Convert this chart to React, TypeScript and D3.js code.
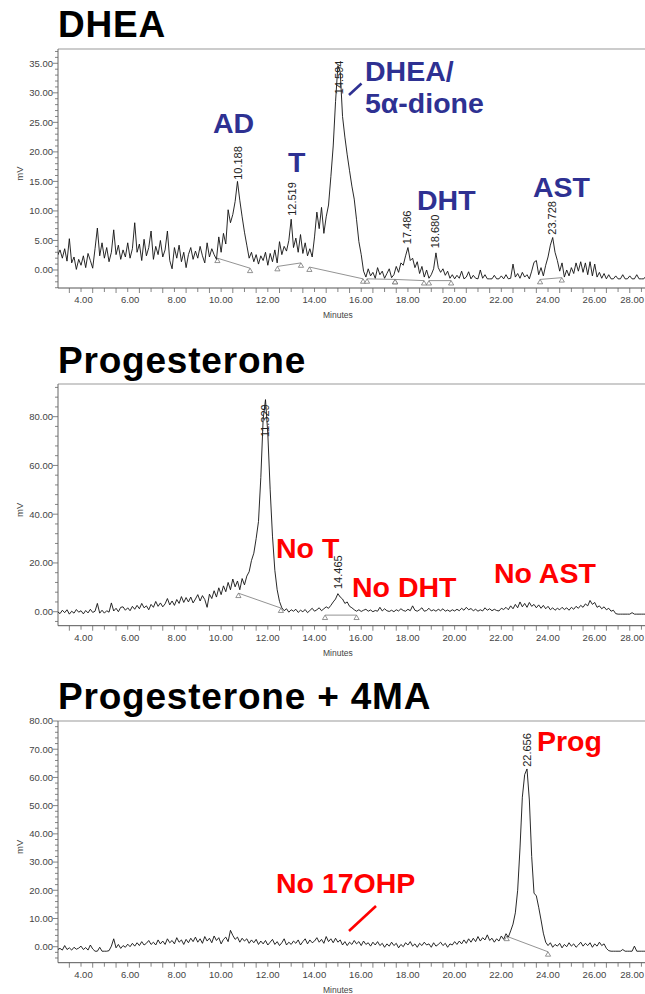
import React from 'react';
import * as d3 from 'd3';

// sampling grid of the traces (minutes)
const T0 = 2.5;
const DT = 0.1;

// DHEA incubation, mV every 0.1 min from 2.5 min
const dheaTrace = [
  2.5, 3.4, 2.0, 3.6, 1.5, 5.3, 1.2, 2.2, 0.1, 1.8,
  0.8, 2.4, 0.4, 2.8, 1.6, 0.3, 3.6, 7.1, 2.4, 4.6,
  2.0, 3.8, 1.4, 3.0, 6.8, 2.6, 4.2, 1.8, 3.4, 2.2,
  4.6, 2.0, 3.6, 8.0, 3.0, 4.4, 1.6, 5.2, 2.4, 3.8,
  6.6, 1.8, 4.0, 2.6, 5.0, 2.2, 3.4, 6.6, 1.6, 0.2,
  3.8, 2.0, 4.2, 1.4, 3.0, 0.4, 2.6, 3.8, 1.8, 3.2,
  2.0, 4.0, 2.4, 1.2, 4.6, 2.2, 3.6, 2.6, 1.8, 5.6,
  3.0, 6.2, 4.4, 10.2, 8.0, 9.4, 11.6, 15.0, 11.8, 9.0,
  6.4, 4.2, 2.0, 3.0, 1.4, 2.6, 1.0, 2.4, 1.6, 3.0,
  0.8, 2.8, 1.4, 3.4, 1.2, 4.8, 2.6, 4.0, 3.2, 5.0,
  8.6, 3.8, 5.4, 3.0, 6.0, 2.8, 4.6, 2.4, 3.6, 2.2,
  5.6, 9.8, 7.0, 10.6, 6.2, 9.0, 11.0, 15.8, 21.0, 28.5,
  34.6, 33.6, 26.0, 22.5, 19.5, 16.8, 14.2, 12.0, 8.5, 4.8,
  2.6, -0.2, -1.2, 0.2, -1.0, -0.4, -1.4, 0.4, -0.8, -0.2,
  -1.4, -0.6, 0.2, -1.3, -0.8, 0.6, -0.4, 1.2, 0.8, 2.4,
  3.8, 1.6, 2.0, 0.4, 1.4, -0.6, 0.6, -1.2, 0.0, -1.4,
  -0.8, 0.2, 2.9, 0.4, -0.4, 0.2, -0.9, -0.2, -1.4, -0.8,
  -1.5, -0.9, -1.4, -0.2, -1.5, -1.2, -0.3, -1.5, -0.9, -1.4,
  -1.5, 0.0, -1.4, -0.8, -1.5, -1.5, -1.5, -0.9, -1.5, -1.5,
  -1.0, -1.5, -0.8, -1.5, -1.4, 1.0, -1.2, -0.6, -1.4, -0.4,
  -1.2, -0.8, -1.5, -0.2, 1.3, 1.6, -0.8, 0.4, -1.0, 0.8,
  2.2, 4.2, 5.5, 3.0, 1.6, -0.2, 1.2, -1.2, 0.0, -1.0,
  0.4, -0.6, 1.2, -0.2, 1.4, -0.4, 1.2, -0.8, 1.4, -1.0,
  1.0, -1.2, -0.4, -1.4, -0.6, -1.5, -0.8, -1.5, -1.5, -1.0,
  -1.5, -1.5, -0.8, -1.5, -1.5, -1.0, -1.5, -1.5, -0.8, -1.5,
  -1.5, -1.5, -1.0, -1.5, -1.5,
];

// Progesterone incubation
const progTrace = [
  0.0, -0.8, 0.6, -0.4, 0.8, -1.0, 0.2, -0.6, 0.9, -0.2,
  0.4, -0.9, 0.5, -0.5, 1.0, -0.3, 0.2, 3.4, -0.6, 0.6,
  -0.6, 0.4, -0.2, 3.6, 0.3, 1.4, 0.0, 1.8, 2.0, 0.6,
  1.6, 0.4, 2.2, 1.0, 2.6, 1.2, 3.4, 1.6, 2.4, 0.8,
  3.0, 1.8, 4.2, 2.2, 3.6, 2.0, 3.2, 5.4, 2.8, 4.4,
  2.6, 5.0, 3.4, 6.2, 3.8, 5.8, 4.0, 6.0, 3.6, 5.2,
  7.0, 4.4, 6.6, 5.0, 1.8, 7.2, 5.4, 8.6, 6.0, 9.8,
  7.0, 10.6, 8.2, 12.0, 9.0, 13.4, 10.2, 12.6, 9.0, 13.6,
  11.0, 14.6, 16.4, 21.0, 24.0, 30.0, 37.0, 55.0, 79.0, 87.0,
  73.0, 50.0, 31.0, 17.0, 9.0, 4.2, 1.6, 0.4, 1.2, -0.2,
  0.8, 0.2, 1.0, -0.3, 0.6, 0.0, 0.9, -0.4, 0.5, 1.4,
  0.2, 0.8, 1.6, 0.4, 1.2, 2.0, 1.4, 2.6, 4.0, 5.2,
  7.4, 6.0, 5.2, 3.4, 4.0, 2.2, 1.6, 0.8, 0.2, 0.8,
  0.1, 0.6, 1.0, 0.2, 0.7, 0.0, 0.5, 0.2, 1.8, 0.3,
  1.2, 0.4, 0.1, 0.6, 0.0, 0.8, 0.3, 1.2, 0.5, 0.2,
  1.0, 0.4, 2.4, 0.6, 0.2, 0.8, 1.6, 0.2, 0.5, 1.4,
  0.3, 0.8, 0.2, 1.0, 0.4, 1.2, 0.2, 0.7, 0.1, 0.8,
  0.3, 1.0, 0.4, 1.4, 0.6, 1.8, 0.8, 1.3, 0.4, 1.0,
  0.2, 0.8, 0.3, 1.6, 0.6, 1.2, 0.4, 1.0, 0.5, 0.3,
  1.4, 0.9, 1.8, 0.8, 2.4, 1.2, 3.0, 1.6, 4.0, 2.0,
  3.4, 1.8, 3.8, 2.2, 3.0, 1.6, 2.8, 1.4, 2.6, 1.2,
  2.2, 0.8, 1.6, 0.6, 1.4, 0.8, 1.8, 0.9, 1.6, 0.6,
  1.8, 1.0, 2.2, 1.4, 2.6, 1.8, 3.2, 2.4, 4.6, 3.0,
  3.8, 1.8, 2.4, 1.2, 2.0, 0.8, 1.4, 0.2, 0.6, -0.8,
  -1.0, -1.0, -1.0, -1.0, -1.0, -1.0, -0.4, -1.0, -1.0, -1.0,
  -1.0, -1.0, -1.0, -1.0, -1.0,
];

// Progesterone + 4MA incubation
const prog4maTrace = [
  -1.0, -0.6, -1.2, 0.4, -1.0, -0.4, -1.2, -0.2, -0.9, -0.5,
  0.2, -1.0, -0.3, -1.2, 0.6, -0.8, -1.6, -1.6, -0.2, -1.6,
  -1.6, -1.6, -1.4, 0.2, 2.8, -0.4, 0.8, -0.6, 0.4, -0.2,
  0.9, 0.0, 1.2, 0.2, 1.4, 0.4, 1.8, 0.6, 1.2, 2.2,
  0.8, 1.6, 0.6, 2.4, 1.0, 2.0, 0.8, 2.8, 1.4, 2.2,
  1.0, 3.2, 1.6, 2.4, 0.8, 2.6, 1.4, 3.0, 1.8, 3.4,
  1.6, 2.8, 1.2, 3.6, 2.0, 3.0, 1.4, 3.8, 2.2, 3.2,
  1.0, 2.6, 3.4, 1.8, 5.8, 4.0, 2.6, 3.4, 1.6, 3.0,
  2.0, 2.8, 1.2, 2.4, 1.4, 2.6, 0.8, 2.0, 1.0, 2.2,
  0.6, 1.6, 2.6, 0.8, 1.8, 0.4, 1.4, 2.8, 0.6, 1.6,
  0.8, 2.0, 1.2, 2.4, 0.6, 1.8, 2.8, 1.0, 2.4, 1.4,
  2.0, 3.2, 1.6, 2.6, 1.2, 3.6, 1.8, 2.8, 1.4, 3.0,
  1.6, 2.4, 0.6, 1.8, 0.4, 1.6, 0.8, 2.2, 1.0, 1.8,
  0.4, 2.0, 0.8, 1.4, 0.2, 1.6, 0.6, 1.8, 0.4, 1.2,
  -0.2, 1.0, 0.2, 1.6, 0.4, 1.2, -0.4, 0.8, 0.0, 1.4,
  0.6, 1.8, 0.2, 1.0, -0.2, 1.2, 0.4, 1.6, 0.6, 1.0,
  -0.2, 1.4, 0.2, 0.8, 1.6, 0.4, 1.2, -0.2, 1.0, 0.6,
  1.8, 0.8, 2.0, 1.0, 2.4, 1.2, 2.8, 1.6, 3.0, 1.8,
  3.6, 2.0, 3.2, 2.4, 4.2, 2.2, 3.0, 1.6, 2.8, 2.0,
  3.8, 2.6, 4.6, 3.4, 5.6, 8.0, 12.0, 20.0, 35.0, 53.0,
  61.0, 63.0, 52.0, 32.0, 19.0, 18.0, 14.0, 9.5, 4.8, 1.6,
  0.4, 1.4, -0.2, 0.8, 0.2, 1.2, -0.4, 0.8, 0.0, 1.4,
  0.2, 1.0, -0.2, 0.6, 1.6, 0.2, 1.2, 0.4, 1.4, -0.2,
  1.0, 0.2, 1.6, 0.4, 1.0, -0.6, -1.4, -1.6, -1.6, -1.6,
  -1.6, -1.6, -1.0, -1.6, -1.6, -1.6, -1.6, 0.2, -1.6, -1.6,
  -1.6, -1.6, -1.6, -1.6, -1.6,
];

// integrated peaks: retention time label, apex (min, mV)
const dheaPeaks = [
  { label: '10.188', t: 10.21, v: 15.1 },
  { label: '12.519', t: 12.52, v: 9.0 },
  { label: '14.594', t: 14.55, v: 29.6 },
  { label: '17.486', t: 17.45, v: 4.2 },
  { label: '18.680', t: 18.66, v: 3.5 },
  { label: '23.728', t: 23.66, v: 5.8 },
];
const progPeaks = [
  { label: '11.329', t: 11.38, v: 71.2 },
  { label: '14.465', t: 14.52, v: 8.9 },
];
const prog4maPeaks = [{ label: '22.656', t: 22.62, v: 63.4 }];

// integration baselines: start (min, mV) -> end (min, mV)
const dheaBaselines = [
  [9.34, 2.0, 10.74, 0.3],
  [11.91, 0.6, 12.92, 1.2],
  [13.28, 0.5, 15.58, -1.5],
  [15.75, -1.5, 16.95, -1.6],
  [16.95, -1.6, 18.19, -1.8],
  [18.4, -1.8, 19.35, -1.8],
  [23.16, -1.6, 24.09, -1.3],
];
const progBaselines = [
  [10.24, 7.6, 12.06, 1.5],
  [13.95, -1.4, 15.3, -1.4],
];
const prog4maBaselines = [[21.73, 3.7, 23.5, -1.8]];

const xLabels = ['4.00', '6.00', '8.00', '10.00', '12.00', '14.00', '16.00', '18.00', '20.00', '22.00', '24.00', '26.00', '28.00'];

const BLUE = '#2e3192';
const RED = '#ff0000';
const FONT = '"Liberation Sans", Arial, Helvetica, sans-serif';

const panels = [
  {
    title: 'DHEA', titleY: 36.5, top: 49, bottom: 288, yDomain: [-3.05, 37.42], major: 5, minor: 1,
    trace: dheaTrace, peaks: dheaPeaks, baselines: dheaBaselines, color: BLUE,
    notes: [
      { text: 'AD', x: 213, y: 133 },
      { text: 'T', x: 288, y: 172 },
      { text: 'DHEA/', x: 365, y: 81 },
      { text: '5\u03b1-dione', x: 365, y: 113 },
      { text: 'DHT', x: 417, y: 210 },
      { text: 'AST', x: 533, y: 197 },
    ],
    slash: [349, 95, 361.5, 83.5],
  },
  {
    title: 'Progesterone', titleY: 373, top: 384, bottom: 625.7, yDomain: [-5.74, 93.4], major: 20, minor: 4,
    trace: progTrace, peaks: progPeaks, baselines: progBaselines, color: RED,
    notes: [
      { text: 'No T', x: 276, y: 558 },
      { text: 'No DHT', x: 352, y: 597 },
      { text: 'No AST', x: 494, y: 583 },
    ],
    slash: null,
  },
  {
    title: 'Progesterone + 4MA', titleY: 709, top: 721, bottom: 962.7, yDomain: [-5.67, 80], major: 10, minor: 2,
    trace: prog4maTrace, peaks: prog4maPeaks, baselines: prog4maBaselines, color: RED,
    notes: [
      { text: 'No 17OHP', x: 276, y: 893 },
      { text: 'Prog', x: 537, y: 751 },
    ],
    slash: [349, 931, 376, 906],
  },
];

const x = d3.scaleLinear().domain([4, 28]).range([92.7, 653.1]);
const LEFT = 58;
const RIGHT = 645;

function Panel({ cfg, idx }) {
  const y = d3.scaleLinear().domain(cfg.yDomain).range([cfg.bottom, cfg.top]);
  const line = d3.line().x((d, i) => x(T0 + i * DT)).y(d => y(d));

  const yTicks = d3.range(Math.ceil(cfg.yDomain[0] / cfg.minor), Math.floor(cfg.yDomain[1] / cfg.minor) + 1)
    .map(k => k * cfg.minor);
  const xTicks = d3.range(6, 57).map(k => k / 2);
  const midY = (cfg.top + cfg.bottom) / 2 + 5;

  return (
    <g>
      <text x={LEFT} y={cfg.titleY} fontSize={37} fontWeight="bold" letterSpacing={0.8} fill="#000">{cfg.title}</text>

      <clipPath id={`clip-${idx}`}>
        <rect x={LEFT} y={cfg.top} width={RIGHT - LEFT} height={cfg.bottom - cfg.top} />
      </clipPath>

      {/* frame */}
      <line x1={LEFT} x2={RIGHT} y1={cfg.top} y2={cfg.top} stroke="#999" strokeWidth={1.2} />
      <line x1={LEFT} x2={LEFT} y1={cfg.top} y2={cfg.bottom} stroke="#666" strokeWidth={1} />
      <line x1={LEFT} x2={RIGHT} y1={cfg.bottom} y2={cfg.bottom} stroke="#555" strokeWidth={1} />

      {/* y axis */}
      {yTicks.map(v => {
        const major = Math.abs(v / cfg.major - Math.round(v / cfg.major)) < 1e-6;
        return (
          <g key={v}>
            <line x1={LEFT - (major ? 5 : 3)} x2={LEFT} y1={y(v)} y2={y(v)} stroke="#666" strokeWidth={0.8} />
            {major && (
              <text x={LEFT - 5} y={y(v)} dy="0.35em" textAnchor="end" fontSize={9.5} fill="#444">{v.toFixed(2)}</text>
            )}
          </g>
        );
      })}
      <text transform={`translate(23,${midY}) rotate(-90)`} textAnchor="middle" fontSize={9.5} fill="#444">mV</text>

      {/* x axis */}
      {xTicks.map(t => (
        <line key={t} x1={x(t)} x2={x(t)} y1={cfg.bottom} y2={cfg.bottom + (t % 1 === 0 ? 5 : 4)} stroke="#666" strokeWidth={0.8} />
      ))}
      {xLabels.map(s => (
        <text key={s} x={Math.min(x(+s), RIGHT - 1)} y={cfg.bottom + 15} textAnchor="end" fontSize={9.5} fill="#444">{s}</text>
      ))}
      <text x={x(14.5)} y={cfg.bottom + 30} textAnchor="middle" fontSize={8.5} fill="#444">Minutes</text>

      <g clipPath={`url(#clip-${idx})`}>
        {/* integration baselines */}
        {cfg.baselines.map((b, i) => (
          <g key={i}>
            <line x1={x(b[0])} y1={y(b[1])} x2={x(b[2])} y2={y(b[3])} stroke="#777" strokeWidth={0.8} />
            {[[b[0], b[1]], [b[2], b[3]]].map(([t, v], j) => (
              <path key={j} d={`M${x(t)},${y(v)} l-2.6,4.4 h5.2 Z`} fill="#fff" stroke="#666" strokeWidth={0.7} />
            ))}
          </g>
        ))}
        <path d={line(cfg.trace)} fill="none" stroke="#111" strokeWidth={0.9} strokeLinejoin="round" />
      </g>

      {/* peak retention time labels */}
      {cfg.peaks.map(p => (
        <text key={p.label} transform={`translate(${x(p.t) + 4},${y(p.v) - 1}) rotate(-90)`} fontSize={11} fill="#222">{p.label}</text>
      ))}

      {/* annotations */}
      {cfg.notes.map(n => (
        <text key={n.text} x={n.x} y={n.y} fontSize={28.5} fontWeight="bold" fill={cfg.color}>{n.text}</text>
      ))}
      {cfg.slash && (
        <line x1={cfg.slash[0]} y1={cfg.slash[1]} x2={cfg.slash[2]} y2={cfg.slash[3]} stroke={cfg.color} strokeWidth={2.6} />
      )}
    </g>
  );
}

export default function App() {
  return (
    <svg
      width={645}
      height={994}
      style={{ position: 'absolute', left: 0, top: 0, background: '#fff' }}
      fontFamily={FONT}
    >
      <rect width={645} height={994} fill="#fff" />
      {panels.map((p, i) => <Panel key={p.title} cfg={p} idx={i} />)}
    </svg>
  );
}
